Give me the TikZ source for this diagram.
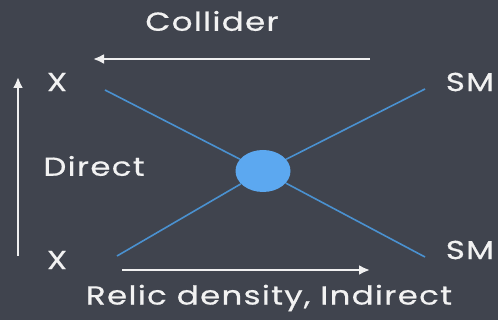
\documentclass[tikz,border=0pt]{standalone}
\usepackage{fontspec}
\setmainfont{Poppins}[FakeStretch=1.25, LetterSpace=5, FakeBold=0.6]
\usetikzlibrary{positioning,arrows.meta,shapes.geometric}
\definecolor{board}{RGB}{64,68,78}
\definecolor{chalkblue}{RGB}{74,145,208}
\definecolor{blobblue}{RGB}{92,168,240}
\tikzset{
  chalkarrow/.style={-{Latex[length=11pt,width=10pt]}, line width=2.2pt, draw=white!94!black},
  chalklabel/.style={text=white!95!black, font=\fontsize{26}{30}\selectfont, inner sep=0pt},
  leg/.style={draw=chalkblue, line width=1.6pt},
  blob/.style={ellipse, fill=blobblue, minimum width=55pt, minimum height=42pt, inner sep=0pt}
}
\begin{document}
\begin{tikzpicture}[x=1pt, y=-1pt]
  \fill[board] (0,0) rectangle (498,320);
  \useasboundingbox (0,0) rectangle (498,320);
  % labels
  \node[chalklabel] (collider) at (212,21) {Collider};
  \node[chalklabel] (direct) at (94,166) {Direct};
  \node[chalklabel] (relic) at (269,298) {Relic density, Indirect};
  \node[chalklabel] (xtop) at (57,82) {X};
  \node[chalklabel] (xbot) at (57,260) {X};
  \node[chalklabel] (smtop) at (470,82) {SM};
  \node[chalklabel] (smbot) at (470,250) {SM};
  % the vertex
  \node[blob] (vertex) at (263,171) {};
  \coordinate (ltop) at (105,90);
  \coordinate (lbot) at (117,256);
  \coordinate (rtop) at (425,89);
  \coordinate (rbot) at (425,257);
  \draw[leg] (ltop) -- (vertex);
  \draw[leg] (vertex) -- (rbot);
  \draw[leg] (lbot) -- (vertex);
  \draw[leg] (vertex) -- (rtop);
  % arrows
  \coordinate (colstart) at (370,59);
  \coordinate (colend) at (93,59);
  \coordinate (dirstart) at (18,256);
  \coordinate (dirend) at (18,77);
  \coordinate (relstart) at (122,270);
  \coordinate (relend) at (370,270);
  \draw[chalkarrow] (colstart) -- (colend);
  \draw[chalkarrow] (dirstart) -- (dirend);
  \draw[chalkarrow] (relstart) -- (relend);
\end{tikzpicture}
\end{document}
